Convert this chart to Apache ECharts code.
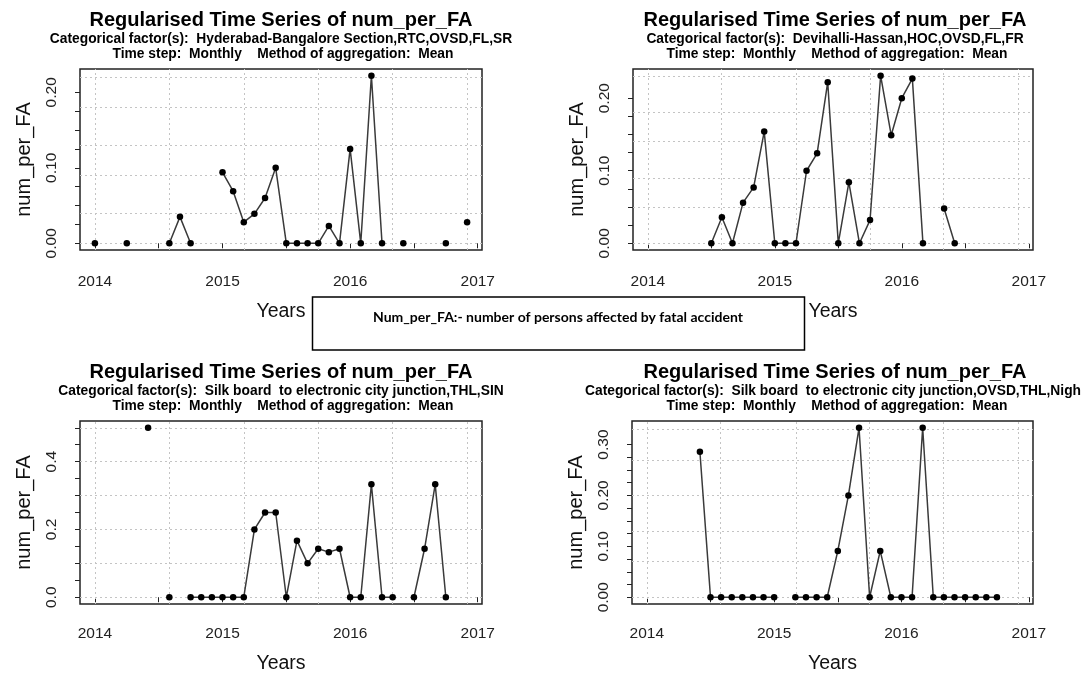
<!DOCTYPE html>
<html><head><meta charset="utf-8">
<script src="https://cdn.jsdelivr.net/npm/echarts@6/dist/echarts.min.js"></script>
<style>html,body{margin:0;padding:0;background:#fff}#c{width:1083px;height:675px}</style>
</head><body><div id="c"></div>
<script>
// ---------------- data ----------------
const months = [
  '2014-01','2014-02','2014-03','2014-04','2014-05','2014-06','2014-07','2014-08','2014-09','2014-10','2014-11','2014-12',
  '2015-01','2015-02','2015-03','2015-04','2015-05','2015-06','2015-07','2015-08','2015-09','2015-10','2015-11','2015-12',
  '2016-01','2016-02','2016-03','2016-04','2016-05','2016-06','2016-07','2016-08','2016-09','2016-10','2016-11','2016-12'
];
const titleText = 'Regularised Time Series of num_per_FA';
const factorTexts = [
  'Categorical factor(s):  Hyderabad-Bangalore Section,RTC,OVSD,FL,SR',
  'Categorical factor(s):  Devihalli-Hassan,HOC,OVSD,FL,FR',
  'Categorical factor(s):  Silk board  to electronic city junction,THL,SIN',
  'Categorical factor(s):  Silk board  to electronic city junction,OVSD,THL,Nigh'
];
const stepText = 'Time step:  Monthly    Method of aggregation:  Mean';
const yName = 'num_per_FA';
const xName = 'Years';
const noteText = 'Num_per_FA:- number of persons affected by fatal accident';
const xTickLabels = [2014, 2015, 2016, 2017];

// Hyderabad-Bangalore Section,RTC,OVSD,FL,SR
const p1Values = [
  0, null, null, 0, null, null, null, 0, 0.035, 0, null, null,
  0.094, 0.069, 0.028, 0.039, 0.060, 0.100, 0, 0, 0, 0, 0.023, 0,
  0.125, 0, 0.222, 0, null, 0, null, null, null, 0, null, 0.028
];
// Devihalli-Hassan,HOC,OVSD,FL,FR
const p2Values = [
  null, null, null, null, null, null, 0, 0.036, 0, 0.056, 0.077, 0.154,
  0, 0, 0, 0.100, 0.124, 0.222, 0, 0.084, 0, 0.032, 0.231, 0.149,
  0.200, 0.227, 0, null, 0.048, 0, null, null, null, null, null, null
];
// Silk board to electronic city junction,THL,SIN
const p3Values = [
  null, null, null, null, null, 0.5, null, 0, null, 0, 0, 0,
  0, 0, 0, 0.2, 0.25, 0.25, 0, 0.167, 0.1, 0.143, 0.133, 0.143,
  0, 0, 0.333, 0, 0, null, 0, 0.143, 0.333, 0, null, null
];
// Silk board to electronic city junction,OVSD,THL,Nigh
const p4Values = [
  null, null, null, null, null, 0.286, 0, 0, 0, 0, 0, 0,
  0, null, 0, 0, 0, 0, 0.091, 0.2, 0.333, 0, 0.091, 0,
  0, 0, 0.333, 0, 0, 0, 0, 0, 0, 0, null, null
];
const yLabels1 = [0, 0.1, 0.2];
const yLabels2 = [0, 0.1, 0.2];
const yLabels3 = [0, 0.2, 0.4];
const yLabels4 = [0, 0.1, 0.2, 0.3];
const yDigits = [2, 2, 1, 2];

// ---------------- layout ----------------
const panels = [
  { values: p1Values, yLabels: yLabels1, left: 80, top: 69, width: 402, height: 181, cx: 281, ty: 0, lm: 24, ng: 52 },
  { values: p2Values, yLabels: yLabels2, left: 633, top: 69, width: 400, height: 181, cx: 835, ty: 0, lm: 24, ng: 52 },
  { values: p3Values, yLabels: yLabels3, left: 80, top: 421, width: 402, height: 183, cx: 281, ty: 352, lm: 22, ng: 50 },
  { values: p4Values, yLabels: yLabels4, left: 632, top: 421, width: 401, height: 183, cx: 835, ty: 352, lm: 22, ng: 50 }
];

const toYear = s => { const [y, m] = s.split('-').map(Number); return y + (m - 1) / 12; };
const tYears = months.map(toYear);
const tMin = tYears[0], tMax = tYears[tYears.length - 1];
const xPad = 0.04 * (tMax - tMin);

const FONT = '"Liberation Sans", Arial, sans-serif';
const grids = [], xAxes = [], yAxes = [], series = [], graphics = [];

const xTicks = [];
for (let v = xTickLabels[0]; v <= xTickLabels[xTickLabels.length - 1] + 1e-9; v += 0.5) xTicks.push(v);
const xGridVals = [];
for (let k = 0; k <= 5; k++) xGridVals.push(tMin + k * (tMax - tMin) / 5);

panels.forEach((p, i) => {
  const vals = p.values.filter(v => v != null);
  const vmax = Math.max(...vals), vmin = Math.min(...vals);
  const yPad = 0.04 * (vmax - vmin);
  const lstep = p.yLabels[1] - p.yLabels[0];
  const yTicks = [];
  const yTop = p.yLabels[p.yLabels.length - 1] + (i === 2 ? lstep / 2 : 0);
  for (let v = 0; v <= yTop + 1e-9; v += lstep / 4) yTicks.push(+v.toFixed(4));
  const yGridVals = [];
  for (let k = 0; k <= 5; k++) yGridVals.push(vmin + k * (vmax - vmin) / 5);

  grids.push({ left: p.left, top: p.top, width: p.width, height: p.height, show: true,
    borderColor: '#222', borderWidth: 1.5, backgroundColor: 'transparent' });
  xAxes.push({
    type: 'value', gridIndex: i, min: tMin - xPad, max: tMax + xPad,
    name: xName, nameLocation: 'middle', nameGap: p.ng,
    nameTextStyle: { fontFamily: FONT, fontSize: 19.5, color: '#111' },
    axisLine: { show: false },
    axisTick: { show: true, length: 5, customValues: xTicks, lineStyle: { color: '#222', width: 1 } },
    axisLabel: { show: true, customValues: xTickLabels, margin: p.lm, fontFamily: FONT, fontSize: 15.5, color: '#222',
      formatter: v => String(Math.round(v)) },
    splitLine: { show: false }
  });
  yAxes.push({
    type: 'value', gridIndex: i, min: vmin - yPad, max: vmax + yPad,
    name: yName, nameLocation: 'middle', nameGap: 46,
    nameTextStyle: { fontFamily: FONT, fontSize: 20, color: '#111' },
    axisLine: { show: false },
    axisTick: { show: true, length: 5, customValues: yTicks, lineStyle: { color: '#222', width: 1 } },
    axisLabel: { show: true, customValues: p.yLabels, rotate: 90, margin: 20, fontFamily: FONT, fontSize: 15.5, color: '#222',
      formatter: v => Number(v).toFixed(yDigits[i]) },
    splitLine: { show: false }
  });
  const pts = tYears.map((t, k) => [t, p.values[k]]);
  series.push({
    type: 'line', xAxisIndex: i, yAxisIndex: i, data: pts, silent: true, z: 1, zlevel: 0,
    symbol: 'none', lineStyle: { opacity: 0 }, connectNulls: false,
    markLine: { symbol: 'none', silent: true, animation: false, label: { show: false },
      lineStyle: { type: [2, 3], color: '#c4c4c4', width: 1 },
      emphasis: { disabled: true },
      data: xGridVals.map(v => ({ xAxis: v })).concat(yGridVals.map(v => ({ yAxis: v }))) }
  });
  series.push({
    type: 'line', xAxisIndex: i, yAxisIndex: i, data: pts, z: 3, zlevel: 1, connectNulls: false,
    symbol: 'circle', symbolSize: 6.5, showSymbol: true, showAllSymbol: true,
    itemStyle: { color: '#000', borderWidth: 0 }, lineStyle: { color: '#3a3a3a', width: 1.5 }
  });

  // titles
  graphics.push({ type: 'text', x: p.cx, y: 20 + p.ty, style: { text: titleText, font: 'bold 20px ' + FONT,
    fill: '#000', align: 'center', verticalAlign: 'middle' } });
  if (i === 3) {
    graphics.push({ type: 'text', x: 585, y: 39 + p.ty, style: { text: factorTexts[i], font: 'bold 13.8px ' + FONT,
      fill: '#000', align: 'left', verticalAlign: 'middle' } });
  } else {
    graphics.push({ type: 'text', x: p.cx, y: 39 + p.ty, style: { text: factorTexts[i], font: 'bold 13.8px ' + FONT,
      fill: '#000', align: 'center', verticalAlign: 'middle' } });
  }
  graphics.push({ type: 'text', x: p.cx + 2, y: 54 + p.ty, style: { text: stepText, font: 'bold 13.8px ' + FONT,
    fill: '#000', align: 'center', verticalAlign: 'middle' } });
});

// note box
graphics.push({ type: 'rect', z: 100, shape: { x: 312.5, y: 297, width: 492, height: 53 },
  style: { fill: '#fff', stroke: '#000', lineWidth: 1.5 } });
graphics.push({ type: 'text', z: 101, x: 558, y: 317, style: { text: noteText,
  font: 'bold 14px Lato, "Open Sans", sans-serif', fill: '#000', align: 'center', verticalAlign: 'middle' } });

const chart = echarts.init(document.getElementById('c'), null, { renderer: 'canvas' });
chart.setOption({
  backgroundColor: '#fff', animation: false,
  grid: grids, xAxis: xAxes, yAxis: yAxes, series: series, graphic: graphics
});
</script></body></html>
